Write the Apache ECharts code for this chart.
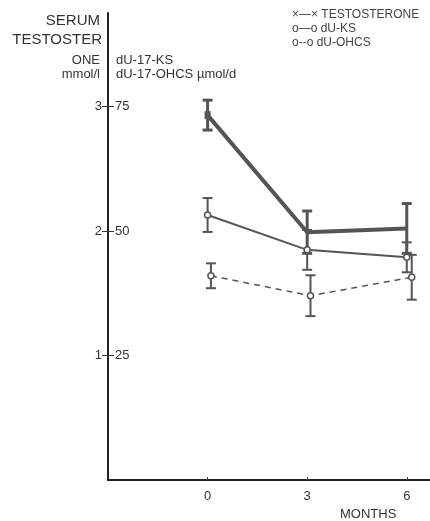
<!DOCTYPE html>
<html>
<head>
<meta charset="utf-8">
<script src="https://cdn.jsdelivr.net/npm/echarts@6/dist/echarts.min.js"></script>
<style>
  html, body { margin: 0; padding: 0; background: #fff; }
  #main { width: 430px; height: 521px; }
</style>
</head>
<body>
<div id="main"></div>
<script>
// months after start
var months = [0, 3, 6];
var ohcsMonths = [0.1, 3.1, 6.15];

// serum testosterone, mmol/l (left scale)
var testosterone = [2.93, 1.99, 2.02];
var testosteroneErr = [0.12, 0.17, 0.2];

// dU-17-KS, µmol/d (right scale)
var ks = [53.2, 46.2, 44.7];
var ksErr = [3.4, 4.0, 3.0];

// dU-17-OHCS, µmol/d
var ohcs = [41.0, 37.0, 40.7];
var ohcsErr = [2.5, 4.1, 4.5];

var leftTicks = [1, 2, 3];
var rightTicks = [25, 50, 75];
var xTicks = [0, 3, 6];

var ink = '#555';
var font = 'Liberation Sans';

function pairs(xs, ys) {
  return xs.map(function (x, i) { return [x, ys[i]]; });
}
function errData(xs, ys, es) {
  return xs.map(function (x, i) { return [x, ys[i] - es[i], ys[i] + es[i]]; });
}
function errSeries(data, yIdx, width) {
  return {
    type: 'custom',
    yAxisIndex: yIdx,
    data: data,
    silent: true,
    z: 3,
    renderItem: function (params, api) {
      var x = api.value(0);
      var lo = api.coord([x, api.value(1)]);
      var hi = api.coord([x, api.value(2)]);
      var c = 5;
      var st = { stroke: ink, lineWidth: width };
      return {
        type: 'group',
        children: [
          { type: 'line', shape: { x1: lo[0], y1: lo[1], x2: hi[0], y2: hi[1] }, style: st },
          { type: 'line', shape: { x1: lo[0] - c, y1: lo[1], x2: lo[0] + c, y2: lo[1] }, style: st },
          { type: 'line', shape: { x1: hi[0] - c, y1: hi[1], x2: hi[0] + c, y2: hi[1] }, style: st }
        ]
      };
    }
  };
}

var chart = echarts.init(document.getElementById('main'));

chart.setOption({
  animation: false,
  grid: { left: 108, right: 0, top: 13, bottom: 41 },
  xAxis: {
    type: 'value',
    min: -3,
    max: 6.7,
    interval: 3,
    axisLine: { onZero: false, lineStyle: { color: '#222', width: 2 } },
    axisTick: { inside: true, length: 3, customValues: xTicks, lineStyle: { color: '#444' } },
    splitLine: { show: false },
    axisLabel: {
      margin: 10,
      color: '#333',
      fontSize: 13,
      fontFamily: font,
      customValues: xTicks
    }
  },
  yAxis: [{
    type: 'value',
    min: 0,
    max: 3.75,
    interval: 1,
    axisLine: { show: true, onZero: false, lineStyle: { color: '#222', width: 2 } },
    axisTick: { show: true, length: 6, customValues: leftTicks, lineStyle: { color: '#333' } },
    splitLine: { show: false },
    axisLabel: {
      margin: 6,
      color: '#333',
      fontSize: 13,
      fontFamily: font,
      customValues: leftTicks
    }
  }, {
    type: 'value',
    position: 'left',
    min: 0,
    max: 93.75,
    interval: 25,
    axisLine: { show: false, onZero: false },
    axisTick: { show: true, inside: true, length: 6, customValues: rightTicks, lineStyle: { color: '#333' } },
    splitLine: { show: false },
    axisLabel: {
      inside: true,
      margin: 7,
      color: '#333',
      fontSize: 13,
      fontFamily: font,
      customValues: rightTicks
    }
  }],
  series: [
    {
      name: 'TESTOSTERONE',
      type: 'line',
      yAxisIndex: 0,
      data: pairs(months, testosterone),
      lineStyle: { color: ink, width: 4 },
      symbol: function (v, p) { return p.dataIndex === 0 ? 'rect' : 'none'; },
      symbolSize: [6, 8],
      itemStyle: { color: ink },
      z: 4
    },
    {
      name: 'dU-KS',
      type: 'line',
      yAxisIndex: 1,
      data: pairs(months, ks),
      lineStyle: { color: ink, width: 2 },
      symbol: 'circle',
      symbolSize: 6,
      itemStyle: { color: '#fff', borderColor: ink, borderWidth: 1.5 },
      z: 5
    },
    {
      name: 'dU-OHCS',
      type: 'line',
      yAxisIndex: 1,
      data: pairs(ohcsMonths, ohcs),
      lineStyle: { color: ink, width: 1.5, type: [6, 5] },
      symbol: 'circle',
      symbolSize: 6,
      itemStyle: { color: '#fff', borderColor: ink, borderWidth: 1.5 },
      z: 5
    },
    errSeries(errData(months, testosterone, testosteroneErr), 0, 3),
    errSeries(errData(months, ks, ksErr), 1, 2),
    errSeries(errData(ohcsMonths, ohcs, ohcsErr), 1, 2)
  ],
  graphic: [
    { type: 'text', right: 330, top: 13, style: { text: 'SERUM', fill: '#333', font: '15px ' + font } },
    { type: 'text', right: 328, top: 32, style: { text: 'TESTOSTER', fill: '#333', font: '15px ' + font } },
    { type: 'text', right: 330, top: 54, style: { text: 'ONE', fill: '#333', font: '13px ' + font } },
    { type: 'text', right: 330, top: 68, style: { text: 'mmol/l', fill: '#333', font: '13px ' + font } },
    { type: 'text', left: 116, top: 54, style: { text: 'dU-17-KS', fill: '#333', font: '13px ' + font } },
    { type: 'text', left: 116, top: 68, style: { text: 'dU-17-OHCS µmol/d', fill: '#333', font: '13px ' + font } },
    { type: 'text', left: 292, top: 9, style: { text: '×—× TESTOSTERONE', fill: '#444', font: '12px ' + font } },
    { type: 'text', left: 292, top: 23, style: { text: 'o—o dU-KS', fill: '#444', font: '12px ' + font } },
    { type: 'text', left: 292, top: 37, style: { text: 'o--o dU-OHCS', fill: '#444', font: '12px ' + font } },
    { type: 'text', left: 340, top: 508, style: { text: 'MONTHS', fill: '#333', font: '13px ' + font } }
  ]
});
</script>
</body>
</html>
